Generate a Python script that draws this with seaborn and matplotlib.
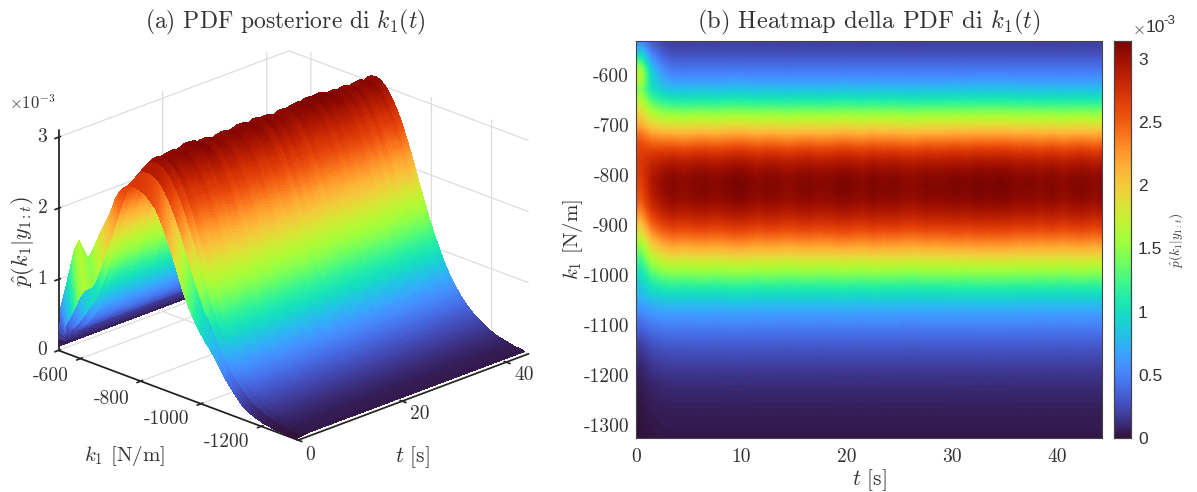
import matplotlib
matplotlib.use('Agg')
import matplotlib.pyplot as plt
from matplotlib.ticker import NullFormatter
from mpl_toolkits.mplot3d import proj3d
import pandas as pd
import seaborn as sns
import numpy as np

# values, pdf in units of 1e-3
k_grid = [-535, -550, -565, -580, -595, -610, -625, -640, -655, -670, -685, -700, -715, -730,
          -745, -760, -775, -790, -805, -820, -835, -850, -865, -880, -895, -910, -925, -940,
          -955, -970, -985, -1000, -1015, -1030, -1045, -1060, -1075, -1090, -1105, -1120,
          -1135, -1150, -1165, -1180, -1195, -1210, -1225, -1240, -1255, -1270, -1285, -1300, -1315]
pdf_steady = [.21, .26, .34, .43, .54, .67, .83, 1.02, 1.23, 1.46, 1.70, 1.95, 2.20, 2.43,
              2.65, 2.83, 2.96, 3.05, 3.10, 3.11, 3.09, 3.04, 2.96, 2.85, 2.72, 2.56, 2.38, 2.19,
              1.98, 1.77, 1.57, 1.38, 1.20, 1.04, .89, .76, .64, .55, .46, .39,
              .33, .27, .23, .19, .155, .125, .10, .085, .07, .055, .045, .04, .03]
pdf_start = [.62, .90, 1.20, 1.50, 1.65, 1.55, 1.45, 1.58, 1.75, 1.92, 2.06, 2.22, 2.42, 2.56,
             2.64, 2.68, 2.70, 2.69, 2.67, 2.63, 2.57, 2.50, 2.37, 2.22, 2.05, 1.87, 1.68, 1.49,
             1.33, 1.20, 1.08, .98, .89, .81, .72, .62, .52, .42, .35, .27,
             .20, .16, .12, .09, .07, .05, .04, .03, .02, .02, .01, .01, .0]
# share of the start profile left in the first seconds
start_share = [1.0, .35, .1]
# ripple of the ridge along time, one value per second after t=0
t_gain = [.985, .99, .995, .985, .995, 1.0, .99, 1.0, 1.01, 1.005, .99, 1.0, .995, .985, .995, 1.0, .99,
          .995, 1.005, 1.0, .99, 1.005, .995, 1.0, .99, .985, 1.0, .995, 1.0, 1.005, 1.0,
          1.01, 1.005, 1.01, 1.005, .995, 1.0, .99, 1.0, .985, .995, 1.0, .985, 1.0]
t_grid = list(range(45))
k_edge = -528   # the surface closes down to the floor at this end
pdf_edge = .06
k_ticks_a = [-600, -800, -1000, -1200]
t_ticks_a = [0, 20, 40]
z_ticks_a = [0, 1, 2, 3]

pdf = np.outer(pdf_steady, [1.0] + t_gain)
for j, w in enumerate(start_share):
    pdf[:, j] = w * np.array(pdf_start) + (1 - w) * pdf[:, j]

sns.set_theme(style='white')
plt.rcParams['font.family'] = ['cmr10', 'DejaVu Serif']
plt.rcParams['mathtext.fontset'] = 'cm'
plt.rcParams['axes.unicode_minus'] = False
plt.rcParams['axes.formatter.use_mathtext'] = True

W, H = 1197, 492
fig = plt.figure(figsize=(W / 100, H / 100), dpi=100, facecolor='white')
text_col = '#333333'
norm = plt.Normalize(0, 3.14)
cmap = plt.get_cmap('turbo')

# (a) surface. facets split along k only to get gouraud style shading of the same table
ax3 = fig.add_axes([7 / W, 0, 560 / W, 487 / H], projection='3d', facecolor='none')
k_surf = [k_edge] + k_grid
pdf_surf = np.vstack([np.full(len(t_grid), pdf_edge), pdf])
rows = np.arange(len(k_surf))
rows_fine = np.linspace(0, len(k_surf) - 1, 5 * (len(k_surf) - 1) + 1)
k_fine = np.interp(rows_fine, rows, k_surf)
pdf_fine = np.column_stack([np.interp(rows_fine, rows, pdf_surf[:, j]) for j in range(len(t_grid))])
T, K = np.meshgrid(t_grid, k_fine)
ax3.plot_surface(K, T, pdf_fine, facecolors=cmap(norm(pdf_fine)), rstride=1, cstride=1, shade=False,
                 linewidth=0, antialiased=False)
ax3.set_proj_type('ortho')
ax3.view_init(elev=22, azim=-45)
ax3.set_xlim(-527.5, -1322.5)
ax3.set_ylim(0, 44.3)
ax3.set_zlim(0, 3.1)
ax3.set_box_aspect((238, 229, 167), zoom=1.05)
ax3.set_xticks(k_ticks_a)
ax3.set_yticks(t_ticks_a)
ax3.set_zticks(z_ticks_a)
for axis in (ax3.xaxis, ax3.yaxis, ax3.zaxis):
    axis.set_major_formatter(NullFormatter())
    axis.set_pane_color((1, 1, 1, 0))
    axis.pane.set_edgecolor('#dddddd')
    axis._axinfo['grid'].update(color='#dddddd', linewidth=0.9)
    axis._axinfo['axisline']['color'] = '#222222'
    axis.line.set_color('#222222')
ax3.zaxis.set_ticks_position('lower')
ax3.grid(True)

# tick labels anchored in data space, mpl does not offset them the way the reference does
def label3d(x, y, z, s):
    px, py, _ = proj3d.proj_transform(x, y, z, ax3.get_proj())
    ax3.text2D(px, py, s, transform=ax3.transData, fontsize=14, color=text_col, ha='center', va='center')

for k in k_ticks_a:
    label3d(k - (30 if k > -900 else 12), -7.4, 0, str(k))
for t in t_ticks_a:
    label3d(-1410, t - (2.7 if t == 0 else 1.6), 0, str(t))
for z in z_ticks_a:
    label3d(-501, -1.55, z, str(z))

# (b) heatmap
ax = fig.add_axes([636 / W, 1 - 438 / H, 466 / W, 397 / H])
cax = fig.add_axes([1114 / W, 1 - 438 / H, 17 / W, 397 / H])
df = pd.DataFrame(pdf, index=k_grid, columns=t_grid)
sns.heatmap(df, ax=ax, cbar_ax=cax, cmap='turbo', vmin=0, vmax=3.14, cbar_kws={'ticks': [0, .5, 1, 1.5, 2, 2.5, 3]})
# smooth rendering of the same table
ax.imshow(pdf, extent=(0, 45, 53, 0), aspect='auto', cmap='turbo', norm=norm, interpolation='bilinear', zorder=3)
ax.set_xlim(0, 44.3)
ax.set_ylim(53, 0)
k_ticks = [-600, -700, -800, -900, -1000, -1100, -1200, -1300]
ax.set_yticks([(-k - 527.5) / 15 for k in k_ticks], [str(k) for k in k_ticks], rotation=0)
ax.set_xticks([0, 10, 20, 30, 40], ['0', '10', '20', '30', '40'], rotation=0)
ax.set_xlabel('')
ax.set_ylabel('')
ax.tick_params(direction='in', length=4, width=0.7, color='#333333', top=True, right=True,
               labelsize=14, labelcolor=text_col, bottom=True, left=True, pad=5)
ax.tick_params(axis='x', pad=7)
for s in ax.spines.values():
    s.set_visible(True)
    s.set_color('#444444')
    s.set_linewidth(0.8)
    s.set_zorder(5)
cax.set_yticks([0, .5, 1, 1.5, 2, 2.5, 3], ['0', '0.5', '1', '1.5', '2', '2.5', '3'], family='Liberation Sans')
cax.tick_params(direction='in', length=3, width=0.7, color='#333333', right=True, labelsize=12.5,
                labelcolor=text_col, pad=5)
for s in cax.spines.values():
    s.set_visible(True)
    s.set_color('#444444')
    s.set_linewidth(0.8)

def put(x, y, s, size=14, rot=0, **kw):
    fig.text(x / W, 1 - y / H, s, fontsize=size, rotation=rot, ha='center', va='center', color=text_col, **kw)

put(285, 22, r'(a) PDF posteriore di $k_1(t)$', 17)
put(869, 22, r'(b) Heatmap della PDF di $k_1(t)$', 17.7)
put(124, 456, r'$k_1$ [N/m]', 15)
put(412, 457, r'$t$ [s]', 15.5)
put(22, 241, r'$\hat{p}(k_1|y_{1:t})$', 16, 90)
put(573, 240, r'$k_1$ [N/m]', 15, 90)
put(869, 480, r'$t$ [s]', 15.5)
put(1176, 240, r'$\hat{p}(k_1|y_{1:t})$', 9.5, 90)
put(32, 103, r'$\times 10^{-3}$', 12)
put(1138, 29, r'$\times$', 12)
put(1155, 28, '10', 12.5, family='Liberation Sans')
put(1169, 21, '-3', 9.5, family='Liberation Sans')

plt.savefig('out.png', dpi=100)
plt.close()
